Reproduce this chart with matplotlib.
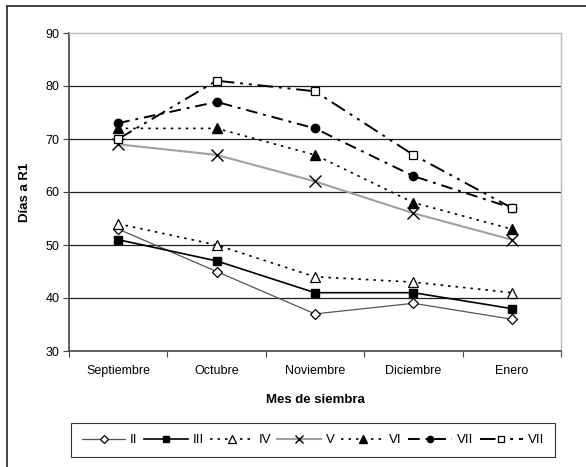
import matplotlib

matplotlib.use("Agg")
import matplotlib.pyplot as plt
from matplotlib.lines import Line2D
from matplotlib import font_manager

# Data
meses = ["Septiembre", "Octubre", "Noviembre", "Diciembre", "Enero"]
etiquetas = ["II", "III", "IV", "V", "VI", "VII", "VII"]
ii = [53, 45, 37, 39, 36]
iii = [51, 47, 41, 41, 38]
iv = [54, 50, 44, 43, 41]
v = [69, 67, 62, 56, 51]
vi = [72, 72, 67, 58, 53]
vii = [73, 77, 72, 63, 57]
viii = [70, 81, 79, 67, 57]

names = {f.name for f in font_manager.fontManager.ttflist}
family = "Liberation Sans Narrow" if "Liberation Sans Narrow" in names else "Liberation Sans"
plt.rcParams["font.family"] = [family, "DejaVu Sans"]
plt.rcParams["font.size"] = 9

fig = plt.figure(figsize=(5.86, 4.67), dpi=100)
W, H = 586, 467
ax = fig.add_axes([69 / W, 1 - 351 / H, (561 - 69) / W, (351 - 33) / H])

x = range(len(meses))
styles = [
    dict(data=ii, color="#555555", lw=0.9, ls="-", marker="D", ms=5, mfc="white", mec="black", mew=0.9),
    dict(data=iii, color="black", lw=1.2, ls="-", marker="s", ms=6, mfc="black", mec="black"),
    dict(data=iv, color="black", lw=1.2, ls=(0, (1.5, 3)), marker="^", ms=7, mfc="white", mec="black", mew=0.9),
    dict(data=v, color="#a0a0a0", lw=1.5, ls="-", marker="x", ms=8, mfc="black", mec="black", mew=1.0),
    dict(data=vi, color="black", lw=1.2, ls=(0, (1.5, 3)), marker="^", ms=7, mfc="black", mec="black"),
    dict(data=vii, color="black", lw=1.4, ls=(0, (6, 3, 1.5, 3)), marker="o", ms=6, mfc="black", mec="black"),
    dict(data=viii, color="black", lw=1.4, ls=(0, (8, 3, 1.5, 3, 1.5, 3)), marker="s", ms=6, mfc="white", mec="black", mew=0.9),
]
for st, lab in zip(styles, etiquetas):
    st = dict(st)
    vals = st.pop("data")
    ax.plot(x, vals, label=lab, **st)

ax.set_xlim(-0.5, 4.5)
ax.set_ylim(30, 90)
ax.set_yticks(range(30, 91, 10))
ax.set_xticks([i - 0.5 for i in range(6)])
ax.set_xticklabels([])
ax.set_xticks(list(x), minor=True)
ax.set_xticklabels(meses, minor=True)
ax.tick_params(axis="x", which="minor", length=0, pad=10)
ax.tick_params(axis="x", which="major", length=4, direction="out", color="#444444")
ax.tick_params(axis="y", length=4, direction="out", color="#444444", pad=3)
for y in range(40, 90, 10):
    ax.axhline(y, color="#222222", lw=0.9, zorder=0)

for s in ["left", "bottom"]:
    ax.spines[s].set_color("#444444")
    ax.spines[s].set_linewidth(1.2)
for s in ["top", "right"]:
    ax.spines[s].set_color("#bbbbbb")
    ax.spines[s].set_linewidth(1.0)

ax.set_ylabel("Días a R1", fontweight="bold", fontsize=9.5, labelpad=10)
ax.set_xlabel("Mes de siembra", fontweight="bold", fontsize=9.5, labelpad=12)

leg = fig.legend(
    loc="center",
    bbox_to_anchor=(313 / W, 1 - 440 / H),
    ncol=7,
    frameon=True,
    fancybox=False,
    edgecolor="black",
    handlelength=3.3,
    handletextpad=0.35,
    columnspacing=0.5,
    borderpad=0.8,
    markerscale=0.75,
    fontsize=9.5,
)
leg.get_frame().set_linewidth(0.8)

# outer chart frame (left and top edges visible)
fig.add_artist(Line2D([7 / W, 7 / W], [0, 1 - 6 / H], color="#333333", lw=1.3))
fig.add_artist(Line2D([7 / W, 1], [1 - 6 / H, 1 - 6 / H], color="#333333", lw=1.3))

fig.savefig("out.png", dpi=100)
